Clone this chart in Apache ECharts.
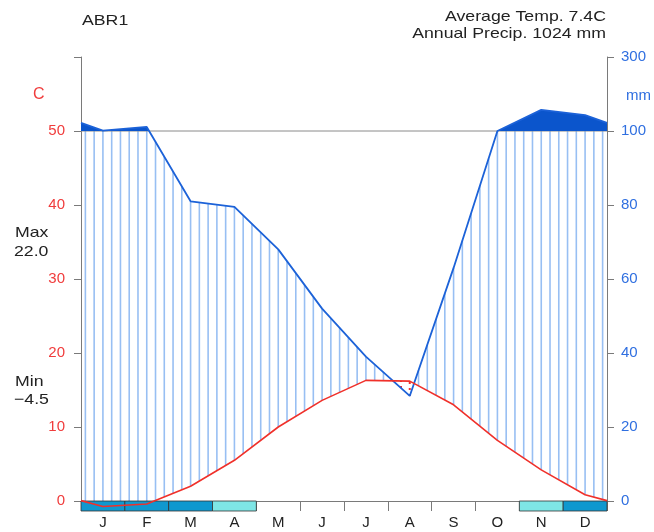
<!DOCTYPE html>
<html>
<head>
<meta charset="utf-8">
<script src="https://cdn.jsdelivr.net/npm/echarts@6/dist/echarts.min.js"></script>
<style>
  html, body { margin: 0; padding: 0; background: #fff; }
  #chart { width: 654px; height: 532px; }
</style>
</head>
<body>
<div id="chart"></div>
<script>
// station data (Walter-Lieth climate diagram)
const stationName = 'ABR1';
const months = ['J', 'F', 'M', 'A', 'M', 'J', 'J', 'A', 'S', 'O', 'N', 'D'];
const tempMean = [-0.75, -0.4, 2.0, 5.5, 10.0, 13.6, 16.3, 16.2, 13.0, 8.2, 4.2, 0.85];
const precip = [101, 111, 81, 79.5, 68, 52, 39, 28.4, 63, 100, 157, 143];
const frost = [2, 2, 2, 1, 0, 0, 0, 0, 0, 0, 1, 2]; // 2 = sure frost, 1 = probable frost
const tempTicks = [0, 10, 20, 30, 40, 50];
const precipTicks = [0, 20, 40, 60, 80, 100, 300];
const avgTemp = '7.4';
const annualPrecip = '1024';
const absMax = '22.0';
const absMin = '-4.5';

// precip is drawn on the temperature scale: 2 mm per degree up to 100 mm, 20 mm per degree above
function scaleP(p) { return p <= 100 ? p / 2 : 50 + (p - 100) / 20; }
function ext(arr) { const e = (arr[0] + arr[11]) / 2; return [e].concat(arr, [e]); }

const X = [0].concat(months.map((m, i) => i + 0.5), [12]);
const T = ext(tempMean);
const P = ext(precip).map(scaleP);

function interp(arr, x) {
  for (let i = 0; i < X.length - 1; i++) {
    if (x >= X[i] && x <= X[i + 1]) {
      const f = (x - X[i]) / (X[i + 1] - X[i]);
      return arr[i] + f * (arr[i + 1] - arr[i]);
    }
  }
  return arr[arr.length - 1];
}

function renderDeco(params, api) {
  const children = [];
  // hatching of humid period, dots of dry period
  for (let x = 0.1; x < 12; x += 0.2) {
    const t = interp(T, x), p = interp(P, x);
    if (p > t) {
      const a = api.coord([x, t]), b = api.coord([x, Math.min(p, 50)]);
      children.push({ type: 'line', shape: { x1: a[0], y1: a[1], x2: b[0], y2: b[1] },
        style: { stroke: '#98bff3', lineWidth: 1.6 } });
    } else {
      const a = api.coord([x, p]), b = api.coord([x, t]);
      children.push({ type: 'line', shape: { x1: a[0], y1: a[1], x2: b[0], y2: b[1] },
        style: { stroke: '#f03030', lineWidth: 2, lineDash: [2, 4] } });
    }
  }
  // 100 mm reference line
  const l0 = api.coord([0, 50]), l1 = api.coord([12, 50]);
  children.push({ type: 'line', shape: { x1: l0[0], y1: l0[1], x2: l1[0], y2: l1[1] },
    style: { stroke: '#8a8a8a', lineWidth: 1 } });
  // solid fill above 100 mm
  const pts = [];
  for (let i = 0; i < X.length; i++) {
    pts.push(api.coord([X[i], Math.max(P[i], 50)]));
    if (i < X.length - 1 && (P[i] - 50) * (P[i + 1] - 50) < 0) {
      const f = (50 - P[i]) / (P[i + 1] - P[i]);
      pts.push(api.coord([X[i] + f * (X[i + 1] - X[i]), 50]));
    }
  }
  pts.push(api.coord([12, 50]));
  pts.push(api.coord([0, 50]));
  children.push({ type: 'polygon', shape: { points: pts }, style: { fill: '#0b55cc' } });
  return { type: 'group', children: children };
}

function renderFrost(params, api) {
  const i = api.value(0), code = api.value(1);
  const s = api.coord([i, 0]), e = api.coord([i + 1, 0]);
  return {
    type: 'rect',
    shape: { x: s[0], y: s[1], width: e[0] - s[0], height: 10 },
    style: { fill: code === 2 ? '#0f98cf' : '#7ee6e6', stroke: '#333', lineWidth: 0.8 }
  };
}

const chart = echarts.init(document.getElementById('chart'));
const font = 'Liberation Sans, Arial, sans-serif';

function label(x, y, text, align, extra) {
  return Object.assign({
    type: 'text', x: x, y: y, scaleX: 1.18,
    style: { text: text, fontSize: 15, fill: '#222', fontFamily: font, textAlign: align, textVerticalAlign: 'middle' }
  }, extra || {});
}

chart.setOption({
  animation: false,
  textStyle: { fontFamily: font },
  grid: { left: 81, right: 47, top: 57, bottom: 31 },
  xAxis: [
    {
      type: 'value', min: 0, max: 12, interval: 1,
      axisLine: { lineStyle: { color: '#7a7a7a', width: 1 } },
      axisTick: { length: 10, lineStyle: { color: '#7a7a7a' } },
      axisLabel: { show: false },
      splitLine: { show: false }
    },
    {
      type: 'category', data: months, boundaryGap: true, position: 'bottom',
      axisLine: { show: false }, axisTick: { show: false },
      axisLabel: { color: '#222', fontSize: 15, margin: 14 }
    }
  ],
  yAxis: [
    {
      type: 'value', min: 0, max: 60, interval: 10, position: 'left',
      axisLine: { show: true, lineStyle: { color: '#7a7a7a' } },
      axisTick: { length: 7, lineStyle: { color: '#7a7a7a' } },
      axisLabel: {
        color: '#f03c3c', fontSize: 15, margin: 16,
        formatter: v => tempTicks.indexOf(v) >= 0 ? String(v) : ''
      },
      splitLine: { show: false }
    },
    {
      type: 'value', min: 0, max: 60, interval: 10, position: 'right',
      axisLine: { show: true, lineStyle: { color: '#7a7a7a' } },
      axisTick: { length: 7, lineStyle: { color: '#7a7a7a' } },
      axisLabel: {
        color: '#2f6fe0', fontSize: 15, margin: 14,
        formatter: v => {
          const idx = Math.round(v / 10);
          return precipTicks[idx] !== undefined ? String(precipTicks[idx]) : '';
        }
      },
      splitLine: { show: false }
    }
  ],
  series: [
    {
      type: 'custom', coordinateSystem: 'cartesian2d', renderItem: renderDeco,
      data: [[0, 0]], clip: false, silent: true, z: 1
    },
    {
      type: 'line', name: 'Precipitation', data: X.map((x, i) => [x, P[i]]),
      symbol: 'none', clip: false, z: 3,
      lineStyle: { color: '#1c62d8', width: 1.8 }
    },
    {
      type: 'custom', coordinateSystem: 'cartesian2d', renderItem: renderFrost,
      data: frost.map((f, i) => [i, f]).filter(d => d[1] > 0), clip: false, silent: true, z: 4
    },
    {
      type: 'line', name: 'Temperature', data: X.map((x, i) => [x, T[i]]),
      symbol: 'none', clip: false, z: 6,
      lineStyle: { color: '#f0302a', width: 1.6 }
    }
  ],
  graphic: [
    label(82, 21, stationName, 'left'),
    label(606, 17, 'Average Temp. ' + avgTemp + 'C', 'right'),
    label(606, 34, 'Annual Precip. ' + annualPrecip + ' mm', 'right'),
    label(33, 95, 'C', 'left', { scaleX: 1, style: { text: 'C', fontSize: 16, fill: '#f03c3c', fontFamily: font, textVerticalAlign: 'middle' } }),
    label(626, 96, 'mm', 'left', { scaleX: 1, style: { text: 'mm', fontSize: 15, fill: '#2f6fe0', fontFamily: font, textVerticalAlign: 'middle' } }),
    label(15, 233, 'Max', 'left'),
    label(14, 252, absMax, 'left'),
    label(15, 382, 'Min', 'left'),
    label(14, 400, absMin.replace('-', '\u2212'), 'left')
  ]
});
</script>
</body>
</html>
